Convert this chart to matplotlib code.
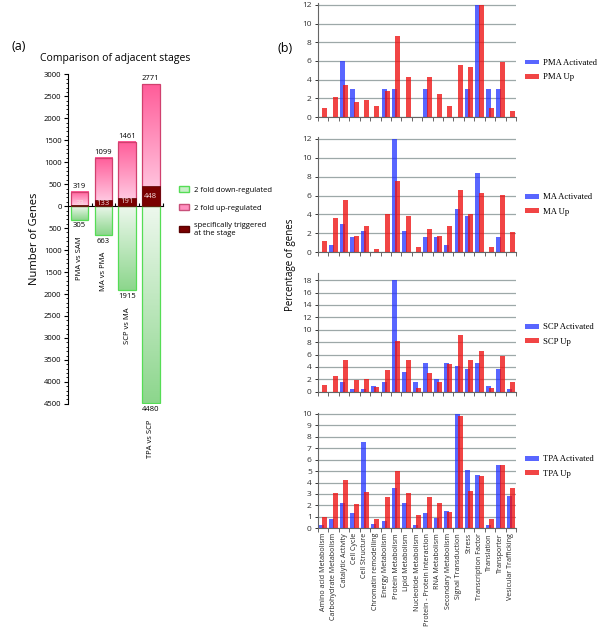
import numpy as np
import matplotlib
matplotlib.use("Agg")
import matplotlib.pyplot as plt
from matplotlib.colors import LinearSegmentedColormap
from matplotlib.patches import Patch
from matplotlib.ticker import MultipleLocator

plt.rcParams['font.family'] = ['Open Sans', 'DejaVu Sans']

# (a) number of genes between adjacent stages
comparisons = ["PMA vs SAM", "MA vs PMA", "SCP vs MA", "TPA vs SCP"]
up_regulated = [319, 1099, 1461, 2771]
down_regulated = [305, 663, 1915, 4480]
triggered = [33, 133, 191, 448]

# (b) percentage of genes per functional category
categories = [
    "Amino acid Metabolism", "Carbohydrate Metabolism", "Catalytic Activity",
    "Cell Cycle", "Cell Structure", "Chromatin remodelling", "Energy Metabolism",
    "Protein Metabolism", "Lipid Metabolism", "Nucleotide Metabolism",
    "Protein - Protein Interaction", "RNA Metabolism", "Secondary Metabolism",
    "Signal Transduction", "Stress", "Transcription Factor", "Translation",
    "Transporter", "Vesicular Trafficking",
]
stages = ["PMA", "MA", "SCP", "TPA"]
pma_activated = [0, 0, 6.0, 3.0, 0, 0, 3.0, 3.0, 0, 0, 3.0, 0, 0, 0, 3.0, 12.0, 3.0, 3.0, 0]
pma_up = [1.0, 2.1, 3.4, 1.6, 1.85, 1.2, 2.8, 8.7, 4.3, 0, 4.3, 2.5, 1.2, 5.6, 5.3, 12.0, 1.0, 5.9, 0.6]
ma_activated = [0, 0.8, 3.0, 1.6, 2.3, 0, 0, 12.0, 2.3, 0, 1.6, 1.6, 0.8, 4.6, 3.8, 8.4, 0, 1.6, 0]
ma_up = [1.2, 3.6, 5.5, 1.7, 2.8, 0.35, 4.0, 7.5, 3.85, 0.6, 2.45, 1.7, 2.8, 6.6, 4.1, 6.3, 0.6, 6.1, 2.2]
scp_activated = [0, 0, 1.5, 0.5, 0.5, 1.0, 1.5, 18.1, 3.1, 1.5, 4.6, 2.1, 4.6, 4.2, 3.6, 4.6, 1.0, 3.6, 0.5]
scp_up = [1.1, 2.6, 5.1, 1.9, 2.0, 0.8, 3.5, 8.2, 5.1, 0.55, 3.0, 1.6, 4.4, 9.2, 5.1, 6.6, 0.55, 5.7, 1.5]
tpa_activated = [0.25, 0.85, 2.25, 1.3, 7.55, 0.4, 0.65, 3.55, 2.25, 0.25, 1.3, 0.9, 1.55, 10.0, 5.1, 4.65, 0.25, 5.55, 2.85]
tpa_up = [1.0, 3.1, 4.2, 2.15, 3.2, 0.85, 2.75, 5.05, 3.1, 1.2, 2.75, 2.25, 1.45, 9.8, 3.25, 4.6, 0.8, 5.5, 3.5]

fig = plt.figure(figsize=(6, 6.3), dpi=100)

# ---------------- panel (a) ----------------
ax_a = fig.add_axes([0.113, 0.359, 0.158, 0.523])
pink_cmap = LinearSegmentedColormap.from_list("pink", ["#ffd6ea", "#ff5c99"])
green_cmap = LinearSegmentedColormap.from_list("green", ["#8cd68c", "#eef8ee"])
grad = np.linspace(0, 1, 256).reshape(-1, 1)

xa = np.arange(len(comparisons)) + 0.5
wa = 0.74
for i in range(len(comparisons)):
    x0, x1 = xa[i] - wa / 2, xa[i] + wa / 2
    ax_a.imshow(grad, extent=[x0, x1, 0, up_regulated[i]], origin="lower",
                cmap=pink_cmap, aspect="auto", zorder=2)
    ax_a.imshow(grad, extent=[x0, x1, -down_regulated[i], 0], origin="lower",
                cmap=green_cmap, aspect="auto", zorder=2)

ax_a.bar(xa, up_regulated, wa, fill=False, edgecolor="#d0406e", lw=0.9, zorder=3)
ax_a.bar(xa, -np.array(down_regulated), wa, fill=False, edgecolor="#55dd55", lw=0.9, zorder=3)
ax_a.bar(xa, triggered, wa, color="#7a0000", edgecolor="#5a0000", lw=0.5, zorder=4)

for i in range(len(comparisons)):
    ax_a.annotate(str(up_regulated[i]), (xa[i], up_regulated[i]), xytext=(0, 1.5),
                  textcoords="offset points", ha="center", va="bottom", fontsize=5.5)
    ax_a.text(xa[i], max(triggered[i] / 2, 60), str(triggered[i]), ha="center",
              va="center", fontsize=5.5, color="#f4dcdc", zorder=5)
    ax_a.annotate(str(down_regulated[i]), (xa[i], -down_regulated[i]), xytext=(0, -2),
                  textcoords="offset points", ha="center", va="top", fontsize=5.5)
    ax_a.annotate(comparisons[i], (xa[i], -down_regulated[i]), xytext=(0, -12),
                  textcoords="offset points", ha="center", va="top", fontsize=5.5,
                  rotation=90)

ax_a.set_xlim(0, len(comparisons))
ax_a.set_ylim(-4500, 3000)
yt = np.arange(-4500, 3001, 500)
ax_a.set_yticks(yt)
ax_a.set_yticklabels([str(abs(v)) for v in yt], fontsize=5.5)
ax_a.yaxis.set_minor_locator(MultipleLocator(100))
ax_a.tick_params(axis="y", which="major", length=3, width=0.8, pad=1.5)
ax_a.tick_params(axis="y", which="minor", length=1.5, width=0.6)
ax_a.spines["bottom"].set_position(("data", 0))
ax_a.spines["top"].set_visible(False)
ax_a.spines["right"].set_visible(False)
ax_a.set_xticks(np.arange(1, len(comparisons) + 1))
ax_a.set_xticklabels([])
ax_a.tick_params(axis="x", length=2.5, direction="in")
ax_a.set_ylabel("Number of Genes", fontsize=8, labelpad=3)

fig.text(115 / 600, 1 - 58 / 630, "Comparison of adjacent stages", ha="center",
         va="center", fontsize=7.5)
fig.text(12 / 600, 1 - 47 / 630, "(a)", ha="left", va="center", fontsize=9)
fig.text(277 / 600, 1 - 48 / 630, "(b)", ha="left", va="center", fontsize=9)

legend_a = [
    Patch(facecolor="#c8eec8", edgecolor="#55dd55"),
    Patch(facecolor="#ff8fbf", edgecolor="#c8507a"),
    Patch(facecolor="#7a0000", edgecolor="#5a0000"),
]
fig.legend(legend_a, ["2 fold down-regulated", "2 fold up-regulated",
                      "specifically triggered\nat the stage"],
           loc="upper left", bbox_to_anchor=(176 / 600, 1 - 183 / 630),
           frameon=False, fontsize=5.5, handlelength=1.3, handleheight=0.9,
           handletextpad=0.6, labelspacing=1.3, borderaxespad=0)

# ---------------- panel (b) ----------------
activated = [pma_activated, ma_activated, scp_activated, tpa_activated]
up = [pma_up, ma_up, scp_up, tpa_up]
ylims = [12.2, 12.2, 19.2, 10.05]
ysteps = [2, 2, 2, 1]
boxes = [(3, 117), (137, 252.3), (272.7, 391.7), (413.3, 528.3)]
legend_y = [0.41, 0.415, 0.48, 0.537]

xb = np.arange(len(categories))
for k in range(len(stages)):
    top, bottom = boxes[k]
    ax = fig.add_axes([318 / 600, 1 - bottom / 630, 198 / 600, (bottom - top) / 630])
    ax.bar(xb + 0.34, activated[k], 0.48, color="#2233ff", alpha=0.75, lw=0,
           label=stages[k] + " Activated", zorder=2)
    ax.bar(xb + 0.66, up[k], 0.48, color="#ee1111", alpha=0.78, lw=0,
           label=stages[k] + " Up", zorder=3)
    ax.set_xlim(0, len(categories))
    ax.set_ylim(0, ylims[k])
    ax.set_yticks(np.arange(0, ylims[k], ysteps[k]))
    ax.yaxis.grid(True, color="#9da8a8", lw=0.9)
    ax.set_axisbelow(True)
    for s in ["top", "right"]:
        ax.spines[s].set_visible(False)
    for s in ["left", "bottom"]:
        ax.spines[s].set_color("#666666")
        ax.spines[s].set_linewidth(0.8)
    ax.tick_params(axis="y", labelsize=6, length=2.5, width=0.7, pad=2, colors="#333333")
    ax.set_xticks(np.arange(0, len(categories) + 1))
    ax.set_xticklabels([])
    ax.set_xticks(xb + 0.5, minor=True)
    ax.tick_params(axis="x", which="major", length=3, width=0.7, colors="#666666")
    ax.tick_params(axis="x", which="minor", length=0)
    if k == len(stages) - 1:
        ax.set_xticklabels(categories, minor=True, rotation=90, fontsize=5.1,
                           color="#222222")
    else:
        ax.set_xticklabels([], minor=True)
    ax.legend(loc="center left", bbox_to_anchor=(1.03, legend_y[k]), frameon=False,
              prop={"family": "Liberation Serif", "size": 6.2}, handlelength=1.6,
              handleheight=0.5, handletextpad=0.5, labelspacing=0.75, borderaxespad=0)

fig.text(290 / 600, 1 - 265 / 630, "Percentage of genes", rotation=90, ha="center",
         va="center", fontsize=7)

fig.savefig("out.png", dpi=100)
print("saved out.png")
